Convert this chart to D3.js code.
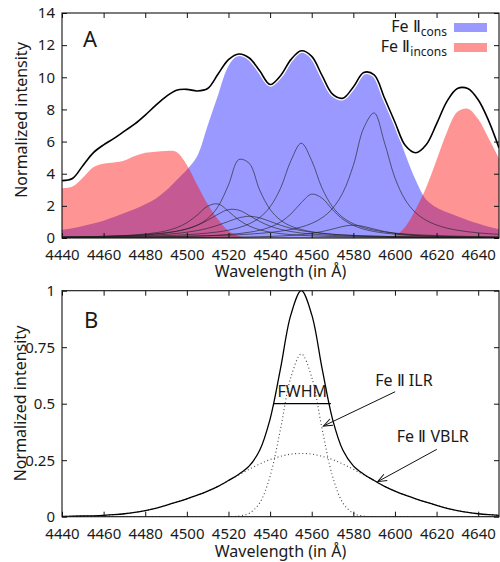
<!DOCTYPE html>
<html><head><meta charset="utf-8">
<script src="https://cdn.jsdelivr.net/npm/d3@7"></script>
<style>
body{margin:0;background:#fff}
svg text{font-family:"Noto Sans",sans-serif;fill:#1a1a1a}
</style>
</head><body>
<svg id="chart" width="500" height="562"></svg>
<script>
// ---------- data ----------
const wavelengths = [4440,4445,4450,4455,4460,4465,4470,4475,4480,4485,4490,4495,4500,4505,4510,4515,4520,4525,4530,4535,4540,4545,4550,4555,4560,4565,4570,4575,4580,4585,4590,4595,4600,4605,4610,4615,4620,4625,4630,4635,4640,4645,4650];

// Panel A
const totalA = [3.57,3.7,4.5,5.3,5.8,6.2,6.65,7.1,7.65,8.25,8.8,9.2,9.25,9.15,9.3,10.2,11.1,11.45,11.2,10.4,9.55,10.1,11.1,11.65,11.3,10.1,8.95,8.7,9.4,10.3,10.15,8.7,7.2,5.75,5.3,5.8,7.1,8.5,9.3,9.3,8.6,7.3,5.6];
const consA = [0.5,0.6,0.75,0.9,1.08,1.3,1.55,1.8,2.1,2.45,2.95,3.6,4.25,5.1,7.0,8.9,10.7,11.4,11.25,10.45,9.6,10.1,11.15,11.75,11.35,10.15,9.0,8.75,9.45,10.35,10.1,8.5,7.0,5.2,3.6,2.4,1.9,1.6,1.35,1.1,0.9,0.7,0.55];
const inconsA = [3.09,3.2,3.75,4.4,4.62,4.7,4.82,5.1,5.3,5.37,5.42,5.35,4.55,3.3,2.1,1.15,0.45,0.12,0.02,0,0,0,0,0,0,0,0,0,0,0,0,0,0.15,0.7,1.8,3.15,4.85,6.6,7.85,8.05,7.4,6.2,4.95];

const compA1 = [0.06,0.068,0.076,0.087,0.10,0.117,0.138,0.165,0.20,0.249,0.315,0.413,0.562,0.80,1.21,1.96,3.30,4.88,4.64,2.98,1.78,1.11,0.743,0.526,0.39,0.30,0.237,0.192,0.159,0.133,0.113,0.098,0.085,0.075,0.066,0.059,0.053,0.048,0.043,0.039,0.036,0.033,0.030];
const compA2 = [0.049,0.053,0.058,0.064,0.071,0.079,0.089,0.100,0.113,0.130,0.150,0.175,0.207,0.249,0.305,0.380,0.487,0.644,0.885,1.275,1.94,3.09,4.81,5.90,4.81,3.09,1.94,1.275,0.885,0.644,0.487,0.380,0.305,0.249,0.207,0.175,0.150,0.130,0.113,0.100,0.089,0.079,0.071];
const compA3 = [0.027,0.029,0.032,0.035,0.038,0.042,0.047,0.052,0.059,0.067,0.076,0.088,0.103,0.121,0.144,0.175,0.217,0.275,0.358,0.483,0.677,0.99,1.49,2.20,2.73,2.475,1.76,1.165,0.784,0.55,0.402,0.305,0.238,0.190,0.156,0.129,0.109,0.094,0.081,0.070,0.062,0.055,0.049];
const compA4 = [0.039,0.042,0.045,0.048,0.052,0.056,0.061,0.066,0.072,0.079,0.087,0.097,0.108,0.121,0.136,0.155,0.178,0.206,0.241,0.286,0.345,0.423,0.531,0.683,0.91,1.26,1.84,2.83,4.52,6.85,7.78,5.92,3.74,2.36,1.57,1.10,0.808,0.615,0.483,0.389,0.319,0.267,0.226];
const compA5 = [0.056,0.064,0.074,0.087,0.103,0.124,0.152,0.190,0.245,0.324,0.445,0.637,0.949,1.43,1.98,2.12,1.66,1.12,0.744,0.511,0.366,0.272,0.210,0.166,0.134,0.111,0.093,0.079,0.068,0.059,0.052,0.046,0.041,0.036,0.033,0.030,0.027,0.025,0.023,0.021,0.019,0.018,0.016];
const compA6 = [0.058,0.066,0.075,0.086,0.100,0.117,0.138,0.166,0.204,0.254,0.324,0.425,0.571,0.788,1.10,1.48,1.77,1.73,1.40,1.03,0.738,0.537,0.402,0.308,0.243,0.195,0.160,0.134,0.113,0.097,0.084,0.073,0.064,0.057,0.051,0.046,0.041,0.037,0.034,0.031,0.028,0.026,0.024];
const compA7 = [0.052,0.058,0.065,0.073,0.084,0.096,0.112,0.131,0.155,0.186,0.227,0.282,0.357,0.461,0.604,0.797,1.031,1.253,1.35,1.253,1.031,0.797,0.604,0.461,0.357,0.282,0.227,0.186,0.155,0.131,0.112,0.096,0.084,0.073,0.065,0.058,0.052,0.047,0.042,0.038,0.035,0.032,0.030];
const compA8 = [0.008,0.009,0.010,0.011,0.012,0.013,0.014,0.016,0.018,0.019,0.022,0.024,0.027,0.031,0.035,0.040,0.047,0.055,0.066,0.080,0.099,0.124,0.160,0.212,0.288,0.40,0.554,0.72,0.80,0.72,0.554,0.40,0.288,0.212,0.16,0.124,0.099,0.08,0.066,0.055,0.047,0.040,0.035];
const componentsA = [compA1,compA2,compA3,compA4,compA5,compA6,compA7,compA8];

// Panel B
const ilrB = [0,0,0,0,0,0,0,0,0,0,0,0,0,0,0,0,0,0.003,0.015,0.061,0.179,0.388,0.617,0.72,0.617,0.388,0.179,0.061,0.015,0.003,0,0,0,0,0,0,0,0,0,0,0,0,0];
const vblrB = [0.001,0.002,0.003,0.004,0.006,0.009,0.013,0.019,0.027,0.037,0.050,0.064,0.079,0.095,0.113,0.134,0.160,0.185,0.210,0.233,0.253,0.267,0.277,0.280,0.277,0.267,0.253,0.233,0.210,0.185,0.160,0.134,0.113,0.095,0.079,0.064,0.050,0.037,0.027,0.019,0.013,0.009,0.006];
const totalB = [0.001,0.002,0.003,0.004,0.006,0.009,0.013,0.019,0.027,0.037,0.050,0.064,0.079,0.095,0.113,0.134,0.160,0.188,0.225,0.294,0.432,0.655,0.894,1.0,0.894,0.655,0.432,0.294,0.225,0.188,0.160,0.134,0.113,0.095,0.079,0.064,0.050,0.037,0.027,0.019,0.013,0.009,0.006];

const xTicks = [4440,4460,4480,4500,4520,4540,4560,4580,4600,4620,4640];
const yTicksA = [0,2,4,6,8,10,12,14];
const yTicksB = [0,0.25,0.5,0.75,1];
const yTickLabelsB = ["0","0.25","0.5","0.75","1"];
const legendLabels = [{main:"Fe Ⅱ", sub:"cons"},{main:"Fe Ⅱ", sub:"incons"}];
const fwhm = {from:4541.8, to:4569.2, level:0.5};
const annotations = [
  {label:"Fe Ⅱ ILR", tx:4590.5, ty:0.58, from:[4600.1,0.553], to:[4565.6,0.401]},
  {label:"Fe Ⅱ VBLR", tx:4600.9, ty:0.332, from:[4620.1,0.298], to:[4591.7,0.155]}
];

// ---------- drawing ----------
const svg = d3.select("#chart");
const x = d3.scaleLinear().domain([4440,4650]).range([62,499]);
const yA = d3.scaleLinear().domain([0,14]).range([238,13]);
const yB = d3.scaleLinear().domain([0,1]).range([516.7,290.7]);
const curve = d3.curveCatmullRom.alpha(0.5);

const defs = svg.append("defs");
function clip(id, y) {
  defs.append("clipPath").attr("id", id).append("rect")
    .attr("x", x.range()[0]).attr("y", y.range()[1])
    .attr("width", x.range()[1]-x.range()[0]).attr("height", y.range()[0]-y.range()[1]);
}
clip("clipA", yA); clip("clipB", yB);
defs.append("marker").attr("id","arr").attr("markerUnits","userSpaceOnUse")
  .attr("viewBox","-10 -5 12 10").attr("refX",0).attr("refY",0)
  .attr("markerWidth",12).attr("markerHeight",10).attr("orient","auto")
  .append("path").attr("d","M-9,-3.5L0,0L-9,3.5").attr("fill","none").attr("stroke","#111").attr("stroke-width",1);

function axes(y, ticks, labels) {
  const g = svg.append("g");
  g.append("g").attr("transform",`translate(0,${y.range()[0]})`)
    .call(d3.axisBottom(x).tickValues(xTicks).tickSize(-5).tickPadding(11.3).tickFormat(d3.format("d")));
  g.append("g").attr("transform",`translate(0,${y.range()[1]})`)
    .call(d3.axisTop(x).tickValues(xTicks).tickSize(-5).tickFormat(""));
  g.append("g").attr("transform",`translate(${x.range()[0]},0)`)
    .call(d3.axisLeft(y).tickValues(ticks).tickSize(-5).tickPadding(7)
      .tickFormat((d,i)=>labels ? labels[i] : d3.format("d")(d)));
  g.append("g").attr("transform",`translate(${x.range()[1]},0)`)
    .call(d3.axisRight(y).tickValues(ticks).tickSize(-5).tickFormat(""));
  g.selectAll(".domain").remove();
  g.selectAll(".tick line").attr("stroke","#111");
  g.selectAll("g").attr("font-family",null).attr("font-size",null);
  g.selectAll(".tick text").style("font-size","15px").attr("fill","#1a1a1a");
  svg.append("rect").attr("x",x.range()[0]).attr("y",y.range()[1])
    .attr("width",x.range()[1]-x.range()[0]).attr("height",y.range()[0]-y.range()[1])
    .attr("fill","none").attr("stroke","#111").attr("stroke-width",1.1);
}

// ----- Panel A -----
const pA = svg.append("g").attr("clip-path","url(#clipA)");
const areaA = d3.area().x((d,i)=>x(wavelengths[i])).y0(yA(0)).y1(d=>yA(d)).curve(curve);
const lineA = d3.line().x((d,i)=>x(wavelengths[i])).y(d=>yA(d)).curve(curve);
pA.append("path").datum(consA).attr("d",areaA).attr("fill","rgb(0,0,255)").attr("fill-opacity",0.4);
pA.append("path").datum(inconsA).attr("d",areaA).attr("fill","rgb(255,0,0)").attr("fill-opacity",0.42);
pA.selectAll("path.comp").data(componentsA).enter().append("path").attr("class","comp")
  .attr("d",lineA).attr("fill","none").attr("stroke","#222").attr("stroke-opacity",0.8).attr("stroke-width",0.8);
pA.append("path").datum(totalA).attr("d",lineA).attr("fill","none").attr("stroke","#fff").attr("stroke-width",4.2);
pA.append("path").datum(totalA).attr("d",lineA).attr("fill","none").attr("stroke","#000").attr("stroke-width",1.6);
axes(yA, yTicksA, null);

svg.append("text").attr("x",83).attr("y",47.3).style("font-size","22px").text("A");
const legColors = ["rgba(0,0,255,0.4)","rgba(255,0,0,0.42)"];
legendLabels.forEach((l,i)=>{
  const by = 32 + i*20;
  const t = svg.append("text").attr("x",447).attr("y",by).attr("text-anchor","end").style("font-size","16px");
  t.append("tspan").text(l.main);
  t.append("tspan").attr("dy",3.5).style("font-size","12px").text(l.sub);
  svg.append("rect").attr("x",454).attr("y",by-9).attr("width",33).attr("height",9).attr("fill",legColors[i]);
});
svg.append("text").attr("x",280.5).attr("y",277).attr("text-anchor","middle").style("font-size","16px").text("Wavelength (in Å)");
svg.append("text").attr("transform","translate(27,120) rotate(-90)").attr("text-anchor","middle").style("font-size","16px").text("Normalized intensity");

// ----- Panel B -----
const pB = svg.append("g").attr("clip-path","url(#clipB)");
const lineB = d3.line().x((d,i)=>x(wavelengths[i])).y(d=>yB(d)).curve(curve);
pB.append("path").datum(ilrB).attr("d",lineB).attr("fill","none").attr("stroke","#444").attr("stroke-width",1.1).attr("stroke-dasharray","1,2.6");
pB.append("path").datum(vblrB).attr("d",lineB).attr("fill","none").attr("stroke","#444").attr("stroke-width",1.1).attr("stroke-dasharray","1,2.6");
pB.append("path").datum(totalB).attr("d",lineB).attr("fill","none").attr("stroke","#000").attr("stroke-width",1.3);
pB.append("line").attr("x1",x(fwhm.from)).attr("x2",x(fwhm.to)).attr("y1",yB(fwhm.level)).attr("y2",yB(fwhm.level))
  .attr("stroke","#000").attr("stroke-width",1.3);
axes(yB, yTicksB, yTickLabelsB);

svg.append("text").attr("x",(x(fwhm.from)+x(fwhm.to))/2).attr("y",yB(0.531)).attr("text-anchor","middle").style("font-size","16px").text("FWHM");
annotations.forEach(a=>{
  svg.append("text").attr("x",x(a.tx)).attr("y",yB(a.ty)).style("font-size","16px").text(a.label);
  svg.append("line").attr("x1",x(a.from[0])).attr("y1",yB(a.from[1])).attr("x2",x(a.to[0])).attr("y2",yB(a.to[1]))
    .attr("stroke","#111").attr("stroke-width",1).attr("marker-end","url(#arr)");
});
svg.append("text").attr("x",84).attr("y",328).style("font-size","22px").text("B");
svg.append("text").attr("x",280.5).attr("y",556.5).attr("text-anchor","middle").style("font-size","16px").text("Wavelength (in Å)");
svg.append("text").attr("transform","translate(26,403.5) rotate(-90)").attr("text-anchor","middle").style("font-size","16px").text("Normalized intensity");
</script>
</body></html>
